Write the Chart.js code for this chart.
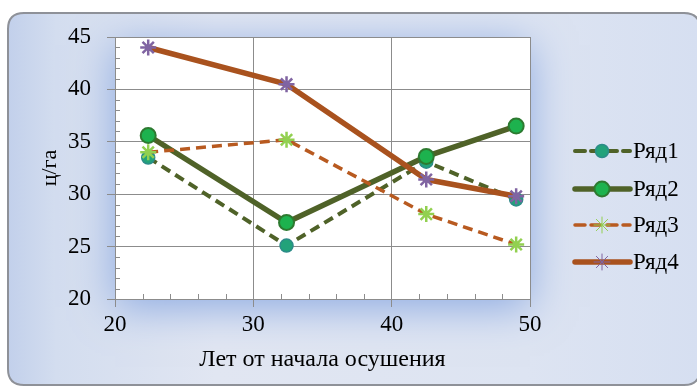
<!DOCTYPE html>
<html>
<head>
<meta charset="utf-8">
<script src="https://cdn.jsdelivr.net/npm/chart.js@4/dist/chart.umd.min.js"></script>
<style>
  html, body { margin: 0; padding: 0; background: #ffffff; }
  canvas { display: block; }
</style>
</head>
<body>
<canvas id="c" width="697" height="389"></canvas>
<script>
// Years since drainage (x) and yield in c/ha for each series
const years = [22.4, 32.4, 42.5, 49.0];
const ryad1 = [33.5, 25.1, 33.1, 29.5];
const ryad2 = [35.6, 27.3, 33.6, 36.5];
const ryad3 = [34.0, 35.2, 28.1, 25.2];
const ryad4 = [44.0, 40.5, 31.4, 29.8];
const seriesNames = ['Ряд1', 'Ряд2', 'Ряд3', 'Ряд4'];
const xTicks = [20, 30, 40, 50];
const yTicks = [20, 25, 30, 35, 40, 45];

const SERIF = '"Liberation Serif", "Times New Roman", serif';
const GRID = '#8c8c8c';
const INK = '#000000';

const pts = vals => years.map((x, i) => ({ x: x, y: vals[i] }));

// Rounded panel with a soft blue glow around the white plot area
const panelPlugin = {
  id: 'panel',
  beforeDraw(chart) {
    const { ctx, chartArea: a } = chart;
    ctx.save();
    const x0 = 8, y0 = 13, x1 = 700, y1 = 385, r = 16;
    const path = () => {
      ctx.beginPath();
      ctx.moveTo(x0 + r, y0);
      ctx.lineTo(x1 - r, y0);
      ctx.quadraticCurveTo(x1, y0, x1, y0 + r);
      ctx.lineTo(x1, y1 - r);
      ctx.quadraticCurveTo(x1, y1, x1 - r, y1);
      ctx.lineTo(x0 + r, y1);
      ctx.quadraticCurveTo(x0, y1, x0, y1 - r);
      ctx.lineTo(x0, y0 + r);
      ctx.quadraticCurveTo(x0, y0, x0 + r, y0);
      ctx.closePath();
    };
    const g = ctx.createLinearGradient(x0, 0, x1, 0);
    g.addColorStop(0, '#c2d0eb');
    g.addColorStop(0.07, '#d3ddef');
    g.addColorStop(0.3, '#e1e6f2');
    g.addColorStop(0.75, '#dde4f2');
    g.addColorStop(1, '#d6dff1');
    path();
    ctx.fillStyle = g;
    ctx.fill();
    ctx.clip();
    // glow behind the plot area
    ctx.shadowColor = 'rgba(140, 170, 226, 1)';
    ctx.shadowBlur = 40;
    ctx.shadowOffsetY = 8;
    ctx.fillStyle = '#ffffff';
    ctx.fillRect(a.left, a.top, a.right - a.left, a.bottom - a.top);
    ctx.shadowColor = 'transparent';
    ctx.fillRect(a.left, a.top, a.right - a.left, a.bottom - a.top);
    ctx.restore();
    ctx.save();
    path();
    ctx.lineWidth = 2;
    ctx.strokeStyle = '#8e9198';
    ctx.stroke();
    ctx.restore();
  }
};

// Minor tick marks pointing into the plot area
const minorTicksPlugin = {
  id: 'minorTicks',
  afterDraw(chart) {
    const { ctx, chartArea: a, scales: { x, y } } = chart;
    ctx.save();
    ctx.strokeStyle = GRID;
    ctx.lineWidth = 1;
    ctx.beginPath();
    for (let v = 22; v < 50; v += 2) {
      if (v % 10 === 0) continue;
      const px = Math.round(x.getPixelForValue(v)) + 0.5;
      ctx.moveTo(px, a.bottom);
      ctx.lineTo(px, a.bottom - 5);
    }
    for (let v = 21; v < 45; v += 1) {
      if (v % 5 === 0) continue;
      const py = Math.round(y.getPixelForValue(v)) + 0.5;
      ctx.moveTo(a.left, py);
      ctx.lineTo(a.left + 5, py);
    }
    ctx.stroke();
    ctx.restore();
  }
};

// Legend: line sample with the marker in the middle, followed by the name
const legendPlugin = {
  id: 'sideLegend',
  afterDraw(chart) {
    const { ctx } = chart;
    const rows = [151, 189, 225, 262];
    chart.data.datasets.forEach((ds, i) => {
      const yy = rows[i];
      ctx.save();
      ctx.strokeStyle = ds.borderColor;
      ctx.lineWidth = ds.borderWidth;
      ctx.lineCap = 'round';
      ctx.setLineDash(ds.borderDash || []);
      ctx.beginPath();
      ctx.moveTo(575, yy);
      ctx.lineTo(630, yy);
      ctx.stroke();
      ctx.setLineDash([]);
      ctx.fillStyle = ds.pointBackgroundColor;
      ctx.strokeStyle = ds.pointBorderColor;
      ctx.lineWidth = ds.pointStyle === 'star' ? 1 : ds.pointBorderWidth;
      Chart.helpers.drawPoint(ctx, {
        pointStyle: ds.pointStyle,
        radius: ds.pointStyle === 'star' ? 8 : ds.pointRadius,
        rotation: 0,
        borderWidth: ctx.lineWidth
      }, 602, yy);
      ctx.fillStyle = INK;
      ctx.font = '23px ' + SERIF;
      ctx.textAlign = 'left';
      ctx.textBaseline = 'middle';
      ctx.fillText(ds.label, 633, yy + 1);
      ctx.restore();
    });
  }
};

new Chart(document.getElementById('c'), {
  type: 'line',
  data: {
    datasets: [
      {
        label: seriesNames[0], data: pts(ryad1), order: 3,
        borderColor: '#4f6228', borderWidth: 4, borderDash: [10, 6],
        pointStyle: 'circle', pointRadius: 6.5, pointBorderWidth: 1.5,
        pointBackgroundColor: '#22a27a', pointBorderColor: '#2c8c88'
      },
      {
        label: seriesNames[1], data: pts(ryad2), order: 2,
        borderColor: '#4f6228', borderWidth: 5.5,
        pointStyle: 'circle', pointRadius: 7.5, pointBorderWidth: 2,
        pointBackgroundColor: '#1db24e', pointBorderColor: '#2d7a30'
      },
      {
        label: seriesNames[2], data: pts(ryad3), order: 1,
        borderColor: '#b85a20', borderWidth: 3.5, borderDash: [10, 6],
        pointStyle: 'star', pointRadius: 8, pointBorderWidth: 2.5,
        pointBackgroundColor: '#92d050', pointBorderColor: '#92d050'
      },
      {
        label: seriesNames[3], data: pts(ryad4), order: 0,
        borderColor: '#a9521e', borderWidth: 5.5,
        pointStyle: 'star', pointRadius: 8, pointBorderWidth: 2.5,
        pointBackgroundColor: '#8064a2', pointBorderColor: '#8064a2'
      }
    ]
  },
  options: {
    responsive: false,
    animation: false,
    events: [],
    layout: { padding: { top: 37, right: 167, left: 0, bottom: 0 } },
    elements: { line: { tension: 0, borderJoinStyle: 'round', borderCapStyle: 'butt' } },
    plugins: { legend: { display: false }, tooltip: { enabled: false } },
    scales: {
      x: {
        type: 'linear', min: 20, max: 50,
        afterBuildTicks: s => { s.ticks = xTicks.map(v => ({ value: v })); },
        afterFit: s => { s.height = 90; },
        ticks: { font: { family: SERIF, size: 23 }, color: INK, padding: 4 },
        grid: { color: GRID, lineWidth: 1, tickLength: 8, drawTicks: true },
        border: { color: GRID, width: 1 },
        title: {
          display: true, text: 'Лет от начала осушения',
          font: { family: SERIF, size: 24 }, color: INK,
          padding: { top: 0, bottom: 15 }
        }
      },
      y: {
        type: 'linear', min: 20, max: 45,
        afterBuildTicks: s => { s.ticks = yTicks.map(v => ({ value: v })); },
        afterFit: s => { s.width = 115; },
        ticks: { font: { family: SERIF, size: 23 }, color: INK, padding: 16 },
        grid: { color: GRID, lineWidth: 1, tickLength: 8, drawTicks: true },
        border: { color: GRID, width: 1 },
        title: {
          display: true, text: 'ц/га',
          font: { family: SERIF, size: 22 }, color: INK,
          padding: { top: 37, bottom: 0 }
        }
      }
    }
  },
  plugins: [panelPlugin, minorTicksPlugin, legendPlugin]
});
</script>
</body>
</html>
